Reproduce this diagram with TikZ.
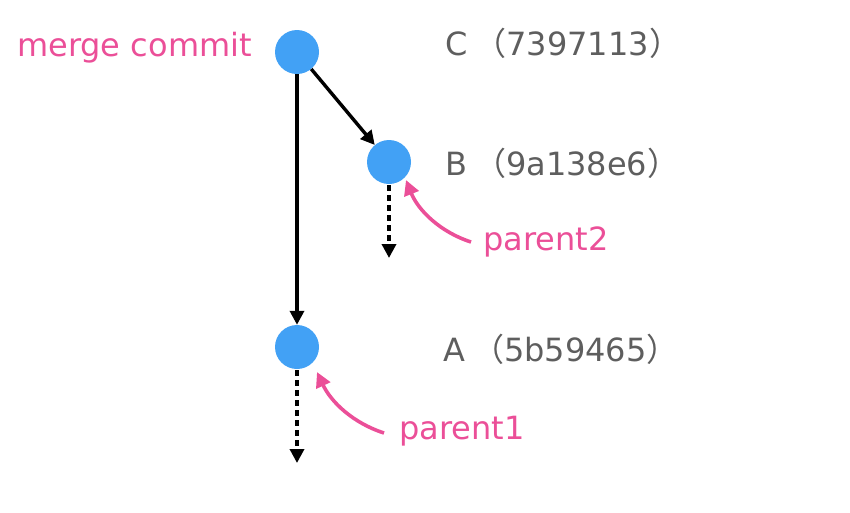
\documentclass[tikz,border=0pt]{standalone}
\usepackage{fontspec}
\setmainfont{DejaVu Sans}
\newfontfamily\cjk{Noto Sans CJK SC}
\usetikzlibrary{arrows.meta}
\definecolor{cblue}{HTML}{42A1F5}
\definecolor{cpink}{HTML}{EB4F98}
\definecolor{cgray}{HTML}{5E5E5E}
\begin{document}
\begin{tikzpicture}[x=1pt,y=-1pt,
  commit/.style={circle,fill=cblue,minimum size=44pt,inner sep=0pt},
  lbl/.style={anchor=base west,inner sep=0pt,text=cgray,font=\fontsize{32}{38}\selectfont},
  pinklbl/.style={anchor=base west,inner sep=0pt,text=cpink,font=\fontsize{32}{38}\selectfont},
  link/.style={line width=3.4pt,-{Triangle[length=14pt,width=14pt]}},
  prev/.style={line width=3.4pt,dash pattern=on 6pt off 4pt,-{Triangle[length=14pt,width=14pt]}},
  pointer/.style={line width=3.6pt,cpink,-{Triangle[length=15pt,width=15pt]}}]
\useasboundingbox (0,0) rectangle (850,512);
\node[commit] (C) at (297,52) {};
\node[commit] (B) at (389,162) {};
\node[commit] (A) at (297,347) {};
\coordinate (Bend) at (389,258);
\coordinate (Aend) at (297,463);
\draw[link] (C) -- (A);
\draw[link] (C) -- (B);
\draw[prev] (B.south) ++(0,1) -- (Bend);
\draw[prev] (A.south) ++(0,1) -- (Aend);
\node[pinklbl,anchor=base east] (mc) at (252,56) {merge commit};
\node[lbl] (lc) at (445,55) {C\hspace{7pt}{\cjk （}7397113{\cjk ）}};
\node[lbl] (lb) at (445,175) {B\hspace{7pt}{\cjk （}9a138e6{\cjk ）}};
\node[lbl] (la) at (443,361) {A\hspace{7pt}{\cjk （}5b59465{\cjk ）}};
\node[pinklbl] (p2) at (483,250) {parent2};
\node[pinklbl] (p1) at (399,439) {parent1};
\coordinate (p2s) at (471,242);
\coordinate (p1s) at (384,433);
\draw[pointer] (p2s) .. controls (440,232) and (418,210) .. (406,180);
\draw[pointer] (p1s) .. controls (353,423) and (331,402) .. (317,372);
\end{tikzpicture}
\end{document}
